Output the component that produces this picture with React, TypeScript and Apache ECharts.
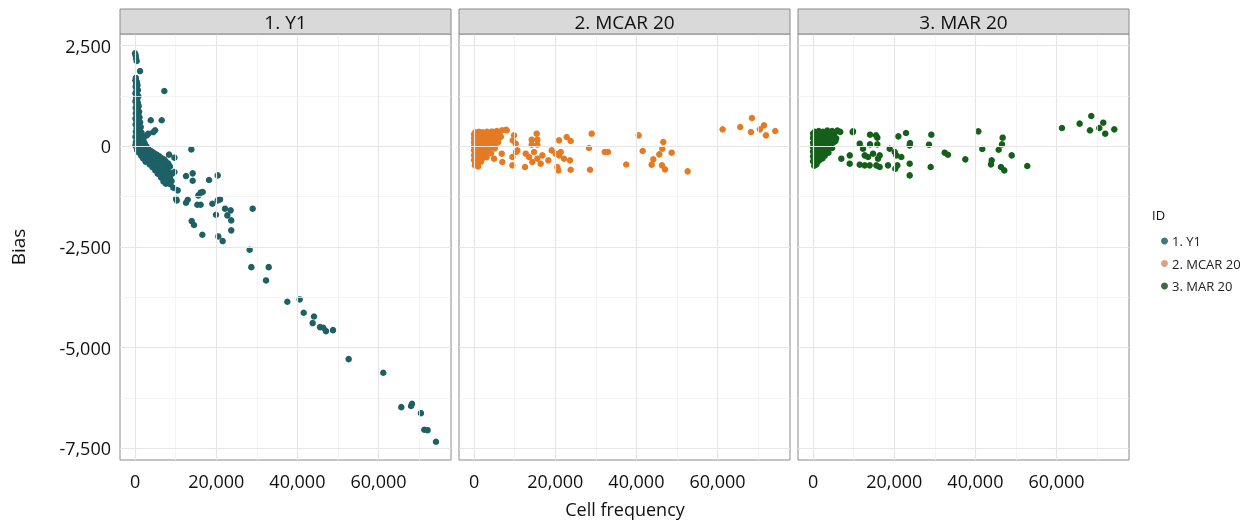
import React, { useEffect, useRef } from "react";
import * as echarts from "echarts";

const panelTitles = ["1. Y1", "2. MCAR 20", "3. MAR 20"];
const xTicks = [0, 20000, 40000, 60000];
const xMinor = [10000, 30000, 50000, 70000];
const yTicks = [-7500, -5000, -2500, 0, 2500];
const yMinor = [-6250, -3750, -1250, 1250];
const xRange = [-3707, 77845];
const yRange = [-7791, 2791];

const y1Data: number[][] = [
  [0, 2310], [150, 2260], [250, 2190], [400, 2120], [1230, 1870], [7220, 1375], [3870, 650], [6570, 650],
  [200, 1700], [100, 1640], [450, 1600], [250, 1560], [600, 1520], [150, 1480], [400, 1440], [700, 1400],
  [300, 1360], [100, 1320], [550, 1280], [800, 1240], [250, 1200], [500, 1160], [100, 1120], [700, 1080],
  [350, 1040], [900, 1000], [150, 960], [600, 930], [400, 890], [1000, 860], [200, 820], [750, 790],
  [500, 750], [1100, 720], [100, 690], [850, 660], [350, 630], [1250, 600], [600, 570], [150, 540],
  [950, 510], [1400, 480], [400, 450], [700, 420], [1150, 390], [200, 360], [1600, 340], [550, 320],
  [900, 290], [1300, 260], [100, 240], [1800, 230], [700, 200], [1100, 180], [400, 150], [2100, 140],
  [1500, 120], [200, 100], [900, 80], [2400, 70], [600, 50], [1800, 30], [100, 20], [1200, 10], [2800, 0],
  [2050, 230], [2880, 273], [3280, 315], [4510, 355], [4930, 400],
  [300, -10], [900, -30], [1600, -50], [2200, -70], [3200, -60], [500, -90], [1300, -110], [2600, -120],
  [3800, -110], [4300, -140], [900, -150], [1900, -170], [3100, -190], [4800, -180], [5400, -210],
  [1500, -230], [2500, -260], [3700, -250], [6000, -250], [4400, -290], [2000, -300], [5200, -320],
  [6600, -300], [3200, -340], [7200, -330], [2600, -380], [4000, -390], [5800, -370], [6900, -400],
  [7600, -380], [3600, -450], [4800, -460], [6300, -450], [7800, -470], [8200, -430], [4300, -520],
  [5500, -540], [7000, -520], [8600, -500], [5000, -600], [6200, -620], [7600, -600], [8400, -640],
  [5600, -680], [6800, -700], [8000, -720], [9100, -680], [6400, -770], [7400, -800], [8600, -790],
  [7000, -870], [8200, -880], [9000, -860], [7600, -930], [8700, -940],
  [8375, -206], [9700, -281], [13870, -75], [9690, -638], [12560, -738], [14200, -671], [14200, -853],
  [18230, -837], [20360, -721], [9440, -1027], [10510, -1093], [10270, -1342], [10100, -1300],
  [12560, -1400], [12980, -1325], [15600, -1218], [16170, -1150], [16670, -1135], [15350, -1450],
  [16170, -1450], [19040, -1425], [20360, -1342], [20940, -1317], [22170, -1548], [23560, -1590],
  [19950, -1698], [22740, -1715], [23700, -1839], [28980, -1548], [13960, -1856], [14530, -1955],
  [23700, -2087], [16580, -2195], [20520, -2237], [21590, -2353], [28240, -2568],
  [28650, -3000], [32930, -3000], [32270, -3330], [37520, -3860], [40560, -3802], [41550, -4133],
  [44090, -4225], [43760, -4390], [45570, -4490], [46390, -4505], [47040, -4590], [48770, -4565],
  [52630, -5285], [61160, -5624], [65600, -6478], [68230, -6395], [68000, -6450], [70440, -6628],
  [71260, -7040], [72080, -7050], [74140, -7338],
];

const mcarData: number[][] = [
  [0, 300], [300, 350], [700, 330], [1200, 360], [1600, 320], [2100, 350], [2600, 330], [3200, 360],
  [3800, 330], [4400, 370], [5000, 340], [5600, 380], [6300, 350], [6900, 400],
  [0, 200], [500, 230], [1000, 180], [1500, 240], [2000, 200], [2500, 160], [3000, 220], [3500, 190],
  [4100, 250], [4700, 200], [5300, 230], [6000, 190], [6600, 240],
  [0, 100], [400, 60], [900, 120], [1400, 80], [1900, 110], [2400, 50], [2900, 90], [3400, 130],
  [4000, 70], [4600, 110], [5200, 60], [5900, 100],
  [0, 0], [600, -30], [1100, 20], [1600, -20], [2100, 10], [2700, -40], [3300, 0], [3900, -30],
  [4500, 20], [5100, -50],
  [0, -100], [400, -140], [800, -80], [1300, -120], [1800, -160], [2300, -100], [2800, -140],
  [3400, -110], [4200, -170],
  [0, -220], [500, -260], [1000, -200], [1500, -240], [2000, -300], [2600, -220], [3100, -270],
  [0, -340], [300, -400], [700, -360], [1200, -320], [1700, -380], [200, -470], [600, -440], [1000, -500],
  [7880, 414], [8050, 398], [9850, 273], [9530, 149], [10270, 67], [10670, -100], [10340, -141],
  [9440, -265], [6970, -390], [6820, -182], [9440, -472], [4930, -306], [12730, -182], [12560, -514],
  [13550, -265], [14360, -390], [15600, -306], [16420, -430], [14780, -141], [16830, -224],
  [18310, -348], [19140, -100], [20120, -182], [20940, -224], [21350, -141], [20520, -514],
  [20770, -597], [22170, -306], [23640, -348], [23810, -580], [20940, 149], [22830, 232], [23810, 132],
  [15440, 315], [14200, 166], [15600, 166], [14200, 42], [15600, 42], [28980, 315], [28320, -42],
  [28570, -580], [32190, -141], [33000, -141], [37500, -450], [40560, 273], [41550, -116],
  [46630, 107], [46380, -58], [45640, -199], [48690, -157], [44170, -323], [43760, -455],
  [46310, -472], [47040, -572], [52630, -621], [61250, 422], [65580, 480], [68470, 704],
  [68230, 355], [70440, 422], [71430, 522], [71920, 273], [74220, 381],
];

const marData: number[][] = [
  [0, 320], [400, 360], [900, 300], [1400, 380], [1900, 330], [2400, 360], [3000, 310], [3500, 390],
  [4100, 340], [4700, 380], [5300, 330], [6000, 390], [6700, 360],
  [0, 210], [500, 180], [1000, 240], [1500, 200], [2000, 250], [2600, 190], [3100, 230], [3700, 170],
  [4300, 220], [5000, 260], [5700, 200],
  [0, 90], [500, 130], [1000, 60], [1500, 100], [2000, 40], [2500, 120], [3000, 70], [3600, 110],
  [4200, 50], [4900, 90], [5500, 130],
  [0, -20], [500, 10], [1100, -40], [1600, 0], [2200, -30], [2800, 20], [3400, -50], [4000, -10],
  [4700, -40],
  [0, -130], [400, -90], [900, -160], [1400, -110], [2000, -140], [2600, -180], [3200, -120], [3800, -160],
  [0, -250], [600, -220], [1100, -280], [1700, -240], [2300, -300], [2900, -230],
  [0, -370], [500, -330], [1000, -400], [1500, -350], [300, -480], [800, -450],
  [9770, 355], [9850, 373], [11500, 67], [12320, -58], [9040, -224], [6970, -306], [9040, -430],
  [11500, -455], [12730, -224], [13550, -265], [14780, -182], [16010, -306], [16420, -224],
  [12730, -472], [13960, -472], [15600, -472], [16420, -514], [18470, -472], [18880, -58],
  [20120, -141], [20520, -224], [21750, -265], [20270, -555], [20770, -472], [23810, -430],
  [23810, -721], [23810, 25], [14040, 290], [15520, 273], [15840, 216], [14040, 50], [15840, 50],
  [21020, 248], [22910, 331], [23890, 82], [29140, 290], [28570, 42], [28980, -514], [32430, -157],
  [33250, -207], [37520, -323], [40720, 373], [41700, -67], [46720, 216], [46550, 50], [45730, -83],
  [48940, -224], [44010, -348], [43840, -447], [46300, -514], [47120, -597], [52780, -489],
  [61330, 455], [65680, 564], [68550, 753], [68230, 398], [70520, 455], [71500, 588], [71990, 315],
  [74220, 422],
];

const panelData = [y1Data, mcarData, marData];
const pointColors = ["#1d6066", "#e57a22", "#14601a"];
const legendColors = ["#3d7a80", "#dca27c", "#3f6a3f"];

const FONT = "Open Sans";
const LEFTS = [120, 459, 798];
const WIDTH = 331;
const TOP = 34;
const HEIGHT = 426;

const fmt = (v: number) => Number(v).toLocaleString("en-US");

export default function App() {
  const ref = useRef<HTMLDivElement>(null);
  useEffect(() => {
    if (!ref.current) return;
    const chart = echarts.init(ref.current, undefined, { renderer: "svg" });

    const grids = LEFTS.map((l) => ({
      left: l, top: TOP, width: WIDTH, height: HEIGHT,
      show: true, borderColor: "#8a8a8a", borderWidth: 1, backgroundColor: "transparent",
    }));

    const xAxes = LEFTS.map((_, i) => ({
      type: "value", gridIndex: i, min: xRange[0], max: xRange[1],
      axisLine: { show: false },
      splitLine: { show: false },
      axisTick: { show: true, customValues: xTicks, length: 4, lineStyle: { color: "#7a7a7a" } },
      axisLabel: { customValues: xTicks, formatter: fmt, fontSize: 18, fontFamily: FONT, color: "#111", margin: 12 },
    }));

    const yAxes = LEFTS.map((_, i) => ({
      type: "value", gridIndex: i, min: yRange[0], max: yRange[1],
      axisLine: { show: false },
      splitLine: { show: false },
      axisTick: { show: i === 0, customValues: yTicks, length: 4, lineStyle: { color: "#7a7a7a" } },
      axisLabel: { show: i === 0, customValues: yTicks, formatter: fmt, fontSize: 18, fontFamily: FONT, color: "#111", margin: 9 },
    }));

    const gridLineSeries = LEFTS.map((_, i) => ({
      type: "scatter", xAxisIndex: i, yAxisIndex: i, data: [], silent: true, z: 1,
      markLine: {
        silent: true, symbol: "none", label: { show: false }, animation: false,
        data: [
          ...xMinor.map((v) => ({ xAxis: v, lineStyle: { color: "#f1f1f1", width: 0.8, type: "solid" } })),
          ...yMinor.map((v) => ({ yAxis: v, lineStyle: { color: "#f1f1f1", width: 0.8, type: "solid" } })),
          ...xTicks.map((v) => ({ xAxis: v, lineStyle: { color: "#e6e6e6", width: 1.2, type: "solid" } })),
          ...yTicks.map((v) => ({ yAxis: v, lineStyle: { color: "#e6e6e6", width: 1.2, type: "solid" } })),
        ],
      },
    }));

    const dataSeries = panelTitles.map((name, i) => ({
      name, type: "scatter", xAxisIndex: i, yAxisIndex: i, data: panelData[i],
      symbolSize: 6.5, z: 3,
      itemStyle: { color: pointColors[i], opacity: 1 },
    }));

    const graphics: any[] = [];
    LEFTS.forEach((l, i) => {
      graphics.push({
        type: "rect", shape: { x: l, y: 9, width: WIDTH, height: 25 },
        style: { fill: "#d9d9d9", stroke: "#8a8a8a", lineWidth: 1 }, z: 10,
      });
      graphics.push({
        type: "text", x: l + WIDTH / 2, y: 22, z: 11,
        style: { text: panelTitles[i], fontSize: 19, fontFamily: FONT, fill: "#111", align: "center", verticalAlign: "middle" },
      });
    });
    graphics.push({
      type: "text", x: 18, y: 247, rotation: Math.PI / 2, z: 11,
      style: { text: "Bias", fontSize: 19, fontFamily: FONT, fill: "#111", align: "center", verticalAlign: "middle" },
    });
    graphics.push({
      type: "text", x: 625, y: 509, z: 11,
      style: { text: "Cell frequency", fontSize: 18, fontFamily: FONT, fill: "#111", align: "center", verticalAlign: "middle" },
    });
    graphics.push({
      type: "text", x: 1152, y: 215, z: 11,
      style: { text: "ID", fontSize: 13, fontFamily: FONT, fill: "#111", align: "left", verticalAlign: "middle" },
    });

    chart.setOption({
      animation: false,
      grid: grids,
      xAxis: xAxes,
      yAxis: yAxes,
      legend: {
        orient: "vertical", left: 1156, top: 228, icon: "circle",
        itemWidth: 7, itemHeight: 7, itemGap: 6.5,
        textStyle: { fontSize: 13, fontFamily: FONT, color: "#222", lineHeight: 16, padding: [0, 0, 0, -1] },
        data: panelTitles.map((n, i) => ({ name: n, itemStyle: { color: legendColors[i] } })),
      },
      series: [...gridLineSeries, ...dataSeries],
      graphic: graphics,
    });
    return () => chart.dispose();
  }, []);
  return <div ref={ref} style={{ position: "fixed", left: 0, top: 0, width: 1258, height: 522 }} />;
}
